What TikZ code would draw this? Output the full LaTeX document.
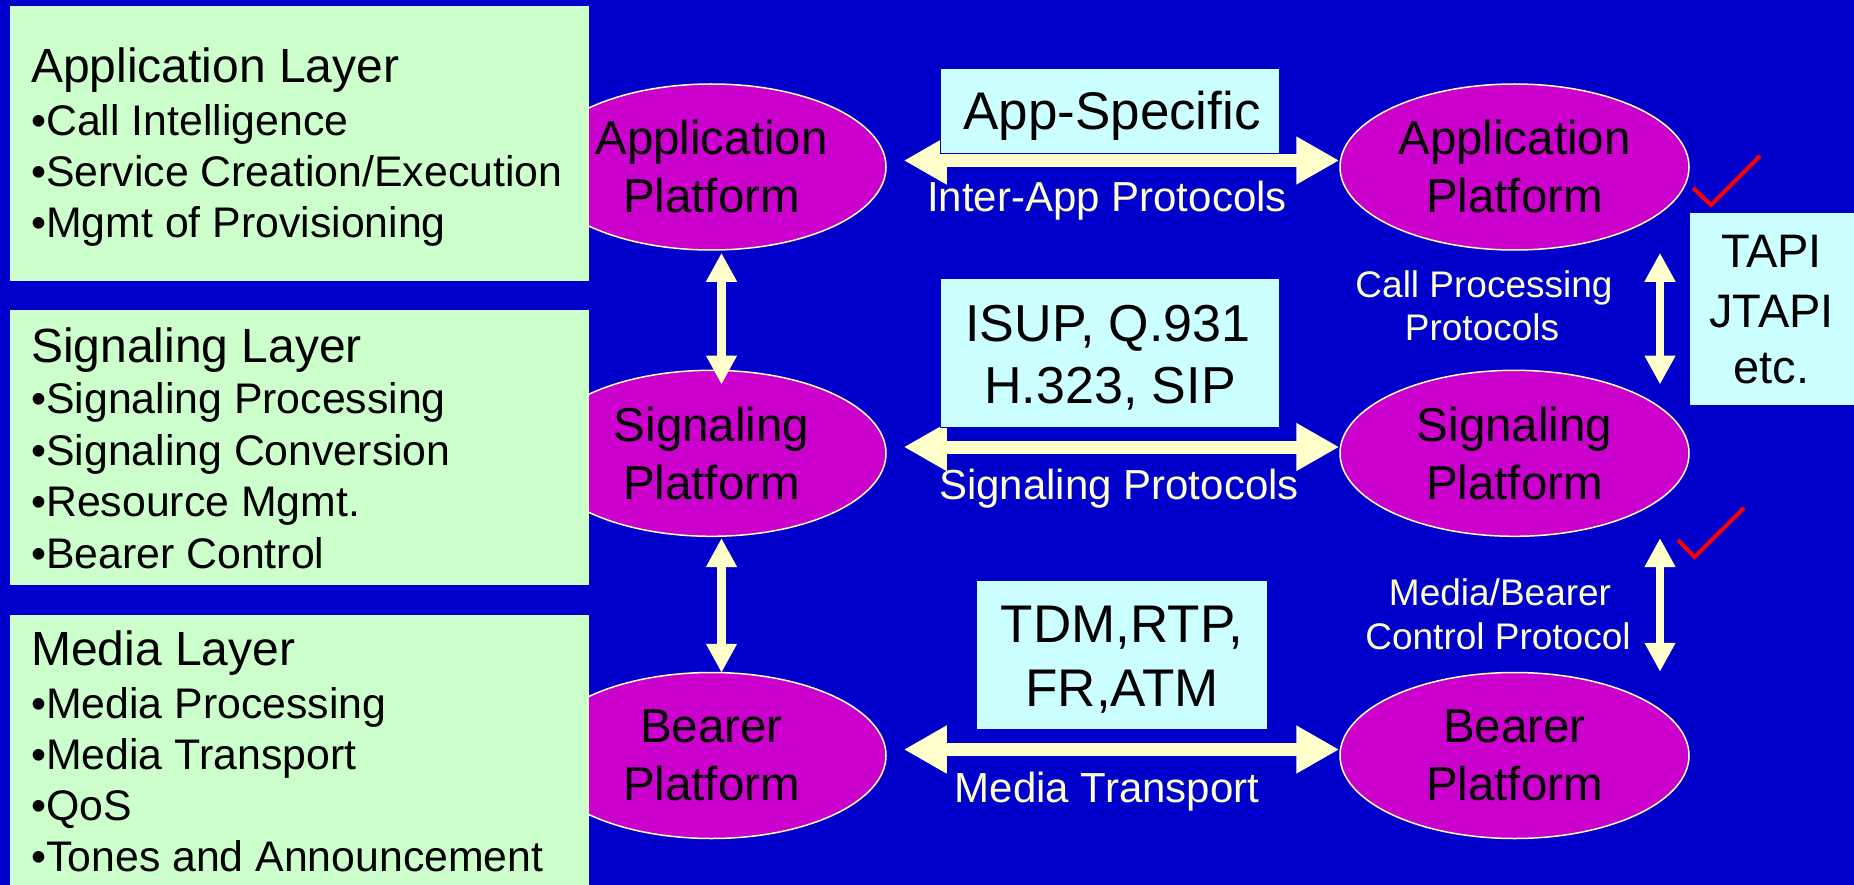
\documentclass[tikz,border=0pt]{standalone}
\usepackage{fontspec}
\setmainfont{Liberation Sans}
\usetikzlibrary{arrows.meta,calc,shapes.geometric}
\definecolor{bgblue}{RGB}{0,0,204}
\definecolor{platmag}{RGB}{204,0,204}
\definecolor{layergreen}{RGB}{204,255,204}
\definecolor{protocyan}{RGB}{204,255,255}
\definecolor{cream}{RGB}{255,255,204}
\definecolor{tickred}{RGB}{255,0,0}

\begin{document}
\begin{tikzpicture}[x=1pt,y=-1pt,
  platform/.style={ellipse, draw=cream, line width=1.5pt, fill=platmag,
    minimum width=349pt, minimum height=166pt, inner sep=0pt, align=center,
    font=\fontsize{47.5}{58}\selectfont, text=black},
  layerbox/.style={rectangle, fill=layergreen, inner sep=0pt, anchor=north west},
  protobox/.style={rectangle, fill=protocyan, draw=bgblue, line width=1pt,
    inner sep=0pt, anchor=north west},
  layertitle/.style={anchor=base west, inner sep=0pt, font=\fontsize{48}{57}\selectfont},
  layeritem/.style={anchor=base west, inner sep=0pt, font=\fontsize{42.8}{51}\selectfont},
  prototext/.style={anchor=base, inner sep=0pt, font=\fontsize{53}{62}\selectfont},
  apitext/.style={anchor=base, inner sep=0pt, font=\fontsize{47}{57}\selectfont},
  linklabel/.style={anchor=base, inner sep=0pt, text=cream, font=\fontsize{42}{50}\selectfont},
  sidelabel/.style={anchor=base, inner sep=0pt, text=cream, font=\fontsize{37}{43}\selectfont},
  flow/.style={draw=cream, line width=13pt,
    {Triangle[width=45pt,length=43pt]}-{Triangle[width=45pt,length=43pt]}},
  ctrl/.style={draw=cream, line width=8.5pt,
    {Triangle[width=29pt,length=29pt]}-{Triangle[width=29pt,length=29pt]}},
  tick/.style={draw=tickred, line width=4pt, line join=miter}
]
% canvas
\useasboundingbox (0,0) rectangle (1854,885);
\fill[bgblue] (0,0) rectangle (1854,885);

% platforms
\node[platform] (aL) at (711.5,167)   {Application\\Platform};
\node[platform] (aR) at (1514.5,167)  {Application\\Platform};
\node[platform] (sL) at (711.5,453.3) {Signaling\\Platform};
\node[platform] (sR) at (1514.5,453.3){Signaling\\Platform};
\node[platform] (bL) at (711.5,755.5) {Bearer\\Platform};
\node[platform] (bR) at (1514.5,755.5){Bearer\\Platform};

% peer-to-peer protocol arrows
\draw[flow] ($(aL.east)+(17,-6.5)$) -- ($(aR.west)+(0,-6.5)$);
\draw[flow] ($(sL.east)+(17,-6.3)$) -- ($(sR.west)+(0,-6.3)$);
\draw[flow] ($(bL.east)+(17,-6)$)   -- ($(bR.west)+(0,-6)$);

% inter-layer arrows
\draw[ctrl] ($(aL.south)+(10,2)$)  -- ($(sL.north)+(10,15)$);
\draw[ctrl] ($(sL.south)+(10,1)$)  -- ($(bL.north)+(10,1)$);
\draw[ctrl] ($(aR.south)+(145.5,2)$) -- ($(sR.north)+(145.5,15)$);
\draw[ctrl] ($(sR.south)+(145.5,1)$) -- ($(bR.north)+(145.5,0)$);

% layer descriptions
\node[layerbox, minimum width=579pt, minimum height=275pt] (appLayer) at (9.5,6) {};
\node[layertitle] (appT)  at (31,82.7)  {Application Layer};
\node[layeritem]  (appI1) at (31,136)   {•Call Intelligence};
\node[layeritem]  (appI2) at (31,186.7) {•Service Creation/Execution};
\node[layeritem]  (appI3) at (31,237.3) {•Mgmt of Provisioning};

\node[layerbox, minimum width=579pt, minimum height=275pt] (sigLayer) at (9.5,310) {};
\node[layertitle] (sigT)  at (31,362.7) {Signaling Layer};
\node[layeritem]  (sigI1) at (31,413)   {•Signaling Processing};
\node[layeritem]  (sigI2) at (31,465)   {•Signaling Conversion};
\node[layeritem]  (sigI3) at (31,516.5) {•Resource Mgmt.};
\node[layeritem]  (sigI4) at (31,568)   {•Bearer Control};

\node[layerbox, minimum width=579pt, minimum height=280pt] (medLayer) at (9.5,614.5) {};
\node[layertitle] (medT)  at (31,665.7) {Media Layer};
\node[layeritem]  (medI1) at (31,718.5) {•Media Processing};
\node[layeritem]  (medI2) at (31,769.5) {•Media Transport};
\node[layeritem]  (medI3) at (31,820.5) {•QoS};
\node[layeritem]  (medI4) at (31,871.5) {•Tones and Announcement};

% protocol boxes
\node[protobox, minimum width=339pt, minimum height=85pt] (appBox) at (940,68) {};
\node[prototext] (appP) at (1112,129.3) {App-Specific};

\node[protobox, minimum width=339pt, minimum height=149pt] (sigBox) at (940,278) {};
\node[prototext, font=\fontsize{52}{62}\selectfont] (sigP1) at (1108,341) {ISUP, Q.931};
\node[prototext, font=\fontsize{52}{62}\selectfont] (sigP2) at (1110,403) {H.323, SIP};

\node[protobox, minimum width=291pt, minimum height=149pt] (medBox) at (976,580) {};
\node[prototext] (medP1) at (1122,642) {TDM,RTP,};
\node[prototext] (medP2) at (1122,706) {FR,ATM};

\node[protobox, minimum width=170pt, minimum height=193pt] (apiBox) at (1688.5,212) {};
\node[apitext] (api1) at (1771.5,268) {TAPI};
\node[apitext] (api2) at (1771.5,327) {JTAPI};
\node[apitext] (api3) at (1771.5,383) {etc.};

% arrow labels
\node[linklabel] (appLbl) at (1107,212) {Inter-App Protocols};
\node[linklabel] (sigLbl) at (1119,499) {Signaling Protocols};
\node[linklabel] (medLbl) at (1107,802) {Media Transport};
\node[sidelabel] (cp1) at (1484,297) {Call Processing};
\node[sidelabel] (cp2) at (1482,340) {Protocols};
\node[sidelabel] (mb1) at (1500,605) {Media/Bearer};
\node[sidelabel] (mb2) at (1498,649) {Control Protocol};

% check marks
\draw[tick] (1693,188) -- (1711,205) -- (1760,156);
\draw[tick] (1678,540) -- (1694.5,557) -- (1744,508);
\end{tikzpicture}
\end{document}
